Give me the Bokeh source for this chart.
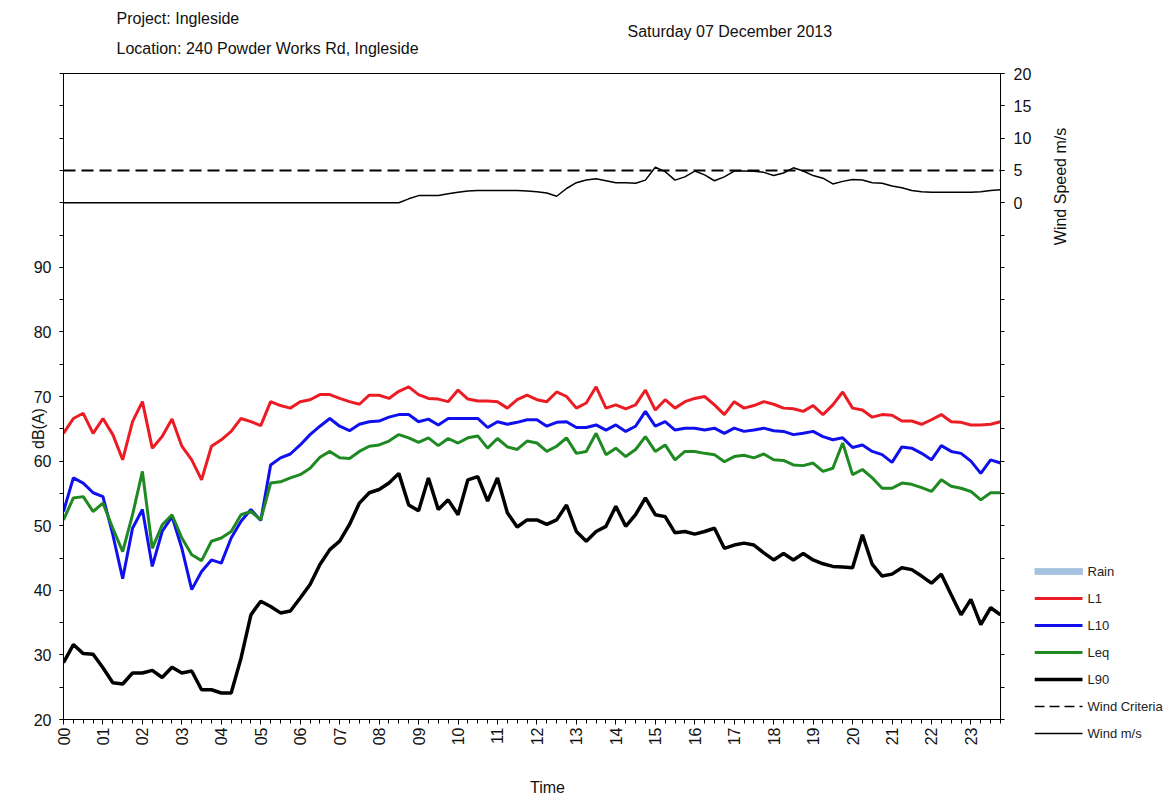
from math import pi
from bokeh.plotting import figure
from bokeh.layouts import row
from bokeh.models import Range1d, LinearAxis, FixedTicker, Label
from bokeh.core.properties import value
from bokeh.embed import file_html
from bokeh.resources import INLINE

# ---------------- data (15-minute intervals, Saturday 07 December 2013) ----------------
hours = [i * 0.25 for i in range(96)]
hour_labels = [f"{h:02d}" for h in range(24)]

l1 = [64.3, 66.6, 67.4, 64.3, 66.6, 64.1, 60.2, 66.1, 69.2, 62.0, 63.8, 66.5,
      62.3, 60.2, 57.1, 62.3, 63.3, 64.6, 66.6, 66.1, 65.5, 69.2, 68.6, 68.2,
      69.2, 69.5, 70.3, 70.3, 69.7, 69.2, 68.8, 70.2, 70.2, 69.7, 70.8, 71.5,
      70.3, 69.7, 69.6, 69.2, 71.0, 69.6, 69.3, 69.3, 69.2, 68.2, 69.5, 70.2,
      69.5, 69.2, 70.7, 70.0, 68.2, 69.0, 71.5, 68.2, 68.7, 68.1, 68.7, 71.0,
      67.9, 69.5, 68.2, 69.2, 69.7, 70.0, 68.7, 67.2, 69.2, 68.2, 68.6, 69.2,
      68.8, 68.2, 68.1, 67.7, 68.6, 67.2, 68.7, 70.7, 68.2, 67.9, 66.8, 67.2,
      67.1, 66.2, 66.2, 65.7, 66.4, 67.2, 66.1, 66.0, 65.6, 65.6, 65.7, 66.1]

l10 = [52.2, 57.4, 56.6, 55.1, 54.5, 48.6, 41.8, 49.6, 52.5, 43.7, 49.1, 51.4,
       46.5, 40.1, 42.9, 44.7, 44.2, 48.1, 50.7, 52.5, 50.8, 59.4, 60.5, 61.1,
       62.5, 64.1, 65.4, 66.6, 65.4, 64.7, 65.7, 66.1, 66.2, 66.8, 67.2, 67.2,
       66.1, 66.5, 65.6, 66.6, 66.6, 66.6, 66.6, 65.2, 66.1, 65.7, 66.0, 66.4,
       66.4, 65.4, 66.0, 66.1, 65.2, 65.2, 65.6, 64.8, 65.6, 64.6, 65.4, 67.7,
       65.4, 66.1, 64.8, 65.1, 65.1, 64.8, 65.1, 64.3, 65.1, 64.6, 64.8, 65.1,
       64.7, 64.6, 64.1, 64.3, 64.6, 63.8, 63.3, 63.6, 62.1, 62.5, 61.5, 61.0,
       59.8, 62.2, 62.0, 61.2, 60.2, 62.4, 61.5, 61.2, 60.0, 58.1, 60.2, 59.7]

leq = [50.9, 54.3, 54.5, 52.2, 53.5, 49.6, 46.0, 51.7, 58.4, 46.5, 50.1, 51.7,
       48.1, 45.5, 44.6, 47.6, 48.1, 49.1, 51.7, 52.2, 50.9, 56.6, 56.8, 57.4,
       57.9, 58.9, 60.6, 61.5, 60.5, 60.4, 61.5, 62.3, 62.5, 63.1, 64.1, 63.6,
       62.9, 63.6, 62.4, 63.5, 62.8, 63.6, 63.9, 62.0, 63.5, 62.2, 61.8, 63.1,
       62.8, 61.5, 62.3, 63.6, 61.2, 61.5, 64.3, 61.0, 62.0, 60.7, 61.8, 63.8,
       61.5, 62.5, 60.2, 61.5, 61.5, 61.2, 61.0, 59.9, 60.7, 60.9, 60.5, 61.1,
       60.2, 60.1, 59.4, 59.3, 59.7, 58.4, 58.9, 62.8, 57.9, 58.7, 57.4, 55.8,
       55.8, 56.6, 56.4, 55.9, 55.3, 57.1, 56.1, 55.8, 55.3, 54.0, 55.1, 55.1]

l90 = [28.8, 31.6, 30.2, 30.1, 28.0, 25.7, 25.5, 27.2, 27.2, 27.6, 26.5, 28.1,
       27.2, 27.5, 24.6, 24.6, 24.1, 24.1, 29.5, 36.2, 38.3, 37.5, 36.5, 36.8,
       38.8, 40.9, 44.0, 46.3, 47.6, 50.2, 53.5, 55.1, 55.6, 56.6, 58.1, 53.2,
       52.3, 57.4, 52.5, 54.0, 51.7, 57.1, 57.6, 53.8, 57.4, 52.0, 49.8, 50.9,
       50.9, 50.2, 50.9, 53.2, 49.1, 47.6, 49.1, 49.9, 53.0, 49.9, 51.7, 54.3,
       51.7, 51.4, 48.9, 49.1, 48.7, 49.1, 49.6, 46.5, 47.0, 47.3, 47.0, 45.8,
       44.7, 45.7, 44.7, 45.7, 44.7, 44.1, 43.7, 43.6, 43.5, 48.6, 44.0, 42.2,
       42.5, 43.5, 43.2, 42.2, 41.1, 42.5, 39.3, 36.2, 38.6, 34.7, 37.3, 36.2]

wind = [0.0] * 35 + [
    0.6, 1.1, 1.1, 1.1, 1.4, 1.6, 1.8, 1.9, 1.9, 1.9, 1.9, 1.9, 1.8,
    1.7, 1.5, 1.0, 2.2, 3.1, 3.5, 3.7, 3.4, 3.1, 3.1, 3.0, 3.5,
    5.5, 4.8, 3.5, 4.0, 4.9, 4.3, 3.4, 4.0, 4.9, 4.9, 4.85, 4.7,
    4.2, 4.6, 5.4, 4.9, 4.2, 3.8, 2.9, 3.3, 3.6, 3.5, 3.1, 3.0,
    2.6, 2.3, 1.9, 1.7, 1.6, 1.6, 1.6, 1.6, 1.6, 1.7, 1.9, 2.0]

rain = [0.0] * 96          # no rain recorded on this day
wind_criteria = 5.0

db_ticks = [20, 30, 40, 50, 60, 70, 80, 90]
db_minor = list(range(20, 121, 5))
wind_ticks = [0, 5, 10, 15, 20]
wind_minor = list(range(-80, 21, 5))

legend_labels = ["Rain", "L1", "L10", "Leq", "L90", "Wind Criteria", "Wind m/s"]

FONT = "Liberation Sans"
RED, BLUE, GREEN, BLACK, RAIN = "#ec1c24", "#1010ee", "#1f8a22", "#000000", "#a4c2e0"

# ---------------- main figure ----------------
W_MAIN, H, W_TOTAL = 1034, 798, 1175
p = figure(width=W_MAIN, height=H,
           x_range=Range1d(0, 23.75), y_range=Range1d(20, 120),
           output_backend="svg", toolbar_location=None,
           min_border_left=63, min_border_right=W_MAIN - 1002,
           min_border_top=73, min_border_bottom=H - 719,
           background_fill_color="white", border_fill_color="white")
p.frame_align = False
p.outline_line_color = "black"
p.outline_line_width = 1
p.grid.visible = False

p.extra_y_ranges = {"wind": Range1d(-80, 20), "rain": Range1d(0, 10)}

xa = p.xaxis[0]
xa.ticker = FixedTicker(ticks=list(range(24)), minor_ticks=hours)
xa.major_label_overrides = {i: lab for i, lab in enumerate(hour_labels)}
xa.major_label_orientation = pi / 2
xa.major_tick_out = 5
xa.major_tick_in = 0
xa.minor_tick_out = 4
xa.minor_tick_in = 0
xa.major_label_standoff = 3

ya = p.yaxis[0]
ya.ticker = FixedTicker(ticks=db_ticks, minor_ticks=db_minor)
ya.major_tick_out = 4
ya.major_tick_in = 0
ya.minor_tick_out = 4
ya.minor_tick_in = 0
ya.major_label_standoff = 8

ra = LinearAxis(y_range_name="wind",
                ticker=FixedTicker(ticks=wind_ticks, minor_ticks=wind_minor))
ra.major_tick_out = 4
ra.major_tick_in = 0
ra.minor_tick_out = 4
ra.minor_tick_in = 0
ra.major_label_standoff = 9
p.add_layout(ra, "right")

for ax in (xa, ya, ra):
    ax.axis_line_color = "black"
    ax.major_tick_line_color = "black"
    ax.minor_tick_line_color = "black"
    ax.major_label_text_font = FONT
    ax.major_label_text_font_size = "16px"
    ax.major_label_text_color = "#111111"

# series
p.vbar(x=hours, top=rain, width=0.25, y_range_name="rain", fill_color=RAIN, line_alpha=0)
p.line(hours, l1, color=RED, line_width=3)
p.line(hours, l10, color=BLUE, line_width=3)
p.line(hours, leq, color=GREEN, line_width=3)
p.line(hours, l90, color=BLACK, line_width=3.5)
p.line([hours[0], hours[-1]], [wind_criteria, wind_criteria], y_range_name="wind",
       color=BLACK, line_width=2, line_dash="12 6")
p.line(hours, wind, y_range_name="wind", color=BLACK, line_width=1.5)

# texts around the plot (labels live in the side panels so they are not clipped)
def lab(side, text, x, y, angle=0.0, align="left"):
    p.add_layout(Label(x=x, y=y, x_units="screen", y_units="screen", text=text,
                       text_font=FONT, text_font_size="16px", text_color="#111111",
                       text_baseline="middle", text_align=align, angle=angle), side)

lab("above", "Project: Ingleside", 53, 55)
lab("above", "Location: 240 Powder Works Rd, Ingleside", 53, 8)
lab("above", "Saturday 07 December 2013", 564, 8)
lab("left", "dB(A)", 25, 291, angle=pi / 2, align="center")
lab("below", "Time", 484, -22, align="center")

# ---------------- side strip: wind-axis title and legend ----------------
X0 = W_MAIN
W_SIDE = W_TOTAL - W_MAIN
q = figure(width=W_SIDE, height=H, x_range=Range1d(X0, X0 + W_SIDE), y_range=Range1d(H, 0),
           output_backend="svg", toolbar_location=None, min_border=0,
           x_axis_type=None, y_axis_type=None, outline_line_color=None,
           background_fill_color="white", border_fill_color="white")
q.frame_align = False
q.grid.visible = False
q.title.visible = False

q.text(x=[1060], y=[186], text=["Wind Speed m/s"], angle=pi / 2,
       text_font=value(FONT), text_font_size="16px", text_color="#111111",
       text_align="center", text_baseline="middle")

row_y = [571 + 27 * i for i in range(len(legend_labels))]
gx0, gx1 = 1034, 1082
q.quad(left=[gx0], right=[gx1], top=[row_y[0] - 3], bottom=[row_y[0] + 3],
       fill_color=RAIN, line_color="#8eb0d4", line_width=0.5)
for yy, col, lw in zip(row_y[1:5], [RED, BLUE, GREEN, BLACK], [3, 3, 3, 3.5]):
    q.line([gx0, gx1], [yy, yy], color=col, line_width=lw)
q.line([gx0, gx1], [row_y[5], row_y[5]], color=BLACK, line_width=1.5, line_dash="10 5")
q.line([gx0, gx1], [row_y[6], row_y[6]], color=BLACK, line_width=1.5)
q.text(x=[1087] * len(legend_labels), y=row_y, text=legend_labels,
       text_font=value(FONT), text_font_size="13px", text_color="#222222",
       text_align="left", text_baseline="middle")

open("out.html", "w").write(file_html(row(p, q), INLINE))
